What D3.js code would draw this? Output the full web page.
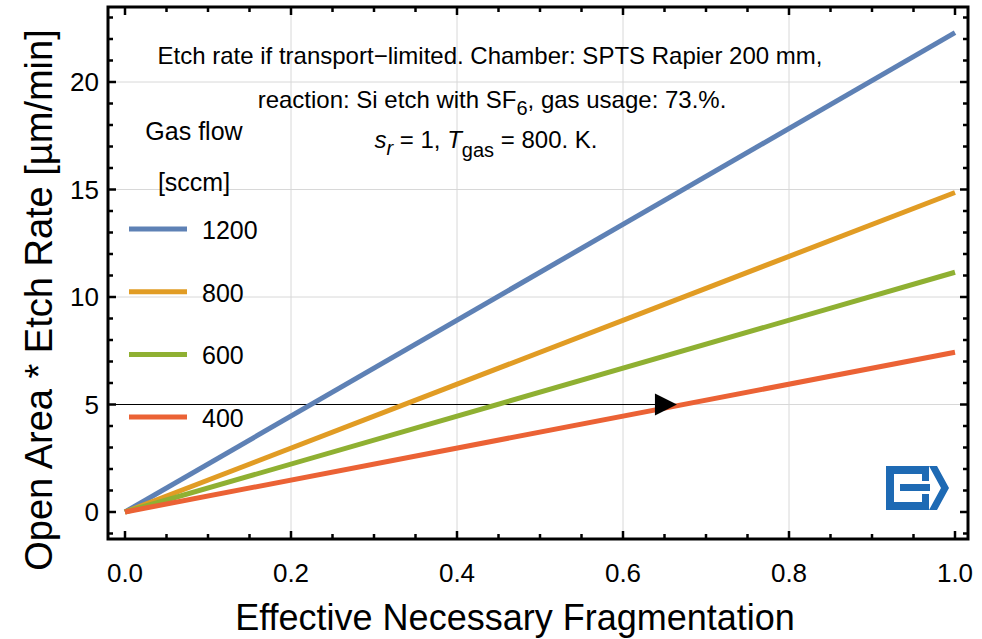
<!DOCTYPE html>
<html>
<head>
<meta charset="utf-8">
<script src="https://cdn.jsdelivr.net/npm/d3@7"></script>
<style>
  body { margin: 0; background: #fff; }
  svg { font-family: "Liberation Sans", Arial, sans-serif; }
</style>
</head>
<body>
<div id="chart"></div>
<script>
// gas flows (sccm) and etch rate at fragmentation = 1 (linear through origin)
const flows = [1200, 800, 600, 400];
const rateAtOne = [22.3, 14.86, 11.15, 7.43];
const colors = ["#5E81B5", "#E19C24", "#8FB032", "#EB6235"];
const xTicks = [0, 0.2, 0.4, 0.6, 0.8, 1.0];
const yTicks = [0, 5, 10, 15, 20];
// arrow: rate level 5 hits the 400 sccm line
const arrowY = 5;
const arrowEnd = 0.665;

const w = 982, h = 639;
const svg = d3.select("#chart").append("svg").attr("width", w).attr("height", h);

// frame is 108..968 x 7..539
const x = d3.scaleLinear().domain([0, 1]).range([125, 955]);
const y = d3.scaleLinear().domain([0, 20]).range([512, 82]);
const fL = 108, fR = 968, fT = 7, fB = 539;

// grid
svg.append("g").selectAll("line").data(xTicks.filter(d => d > 0 && d < 1)).enter().append("line")
   .attr("x1", d => x(d)).attr("x2", d => x(d)).attr("y1", fT).attr("y2", fB)
   .attr("stroke", "#d8d8d8").attr("stroke-width", 1);
svg.append("g").selectAll("line").data(yTicks.filter(d => d > 0)).enter().append("line")
   .attr("x1", fL).attr("x2", fR).attr("y1", d => y(d)).attr("y2", d => y(d))
   .attr("stroke", "#d8d8d8").attr("stroke-width", 1);

// arrow line
svg.append("line")
   .attr("x1", fL).attr("x2", x(arrowEnd) - 18)
   .attr("y1", y(arrowY)).attr("y2", y(arrowY))
   .attr("stroke", "#000").attr("stroke-width", 1.2);

// series
const line = d3.line().x(d => x(d[0])).y(d => y(d[1]));
flows.forEach((f, i) => {
  svg.append("path")
     .datum([[0, 0], [1, rateAtOne[i]]])
     .attr("d", line)
     .attr("fill", "none")
     .attr("stroke", colors[i])
     .attr("stroke-width", 5);
});

// arrow head
const ax = x(arrowEnd), ay = y(arrowY);
svg.append("path")
   .attr("d", `M${ax},${ay} L${ax - 22},${ay - 11} L${ax - 22},${ay + 11} Z`)
   .attr("fill", "#000");

// frame with inward ticks
const minorX = d3.range(0, 1.0001, 0.05);
const minorY = d3.range(-1, 24, 1);
const ticks = svg.append("g").attr("stroke", "#000").attr("stroke-width", 2.5);
minorX.forEach(v => {
  const major = Math.abs(v * 5 - Math.round(v * 5)) < 1e-6;
  const len = major ? 8 : 5;
  ticks.append("line").attr("x1", x(v)).attr("x2", x(v)).attr("y1", fB).attr("y2", fB - len);
  ticks.append("line").attr("x1", x(v)).attr("x2", x(v)).attr("y1", fT).attr("y2", fT + len);
});
minorY.forEach(v => {
  const len = v % 5 === 0 ? 8 : 5;
  ticks.append("line").attr("x1", fL).attr("x2", fL + len).attr("y1", y(v)).attr("y2", y(v));
  ticks.append("line").attr("x1", fR).attr("x2", fR - len).attr("y1", y(v)).attr("y2", y(v));
});
svg.append("rect")
   .attr("x", fL).attr("y", fT).attr("width", fR - fL).attr("height", fB - fT)
   .attr("fill", "none").attr("stroke", "#000").attr("stroke-width", 3);

// tick labels
svg.append("g").selectAll("text").data(xTicks).enter().append("text")
   .attr("x", d => x(d)).attr("y", 582)
   .attr("text-anchor", "middle").attr("font-size", 26)
   .text(d => d.toFixed(1));
svg.append("g").selectAll("text").data(yTicks).enter().append("text")
   .attr("x", 99).attr("y", d => y(d) + 9)
   .attr("text-anchor", "end").attr("font-size", 26)
   .text(d => d);

// axis titles
svg.append("text")
   .attr("x", 515).attr("y", 630)
   .attr("text-anchor", "middle").attr("font-size", 36)
   .text("Effective Necessary Fragmentation");
svg.append("text")
   .attr("transform", "translate(52,300) rotate(-90)")
   .attr("text-anchor", "middle").attr("font-size", 38)
   .text("Open Area * Etch Rate [µm/min]");

// annotation
const ann = svg.append("g").attr("font-size", 24).attr("text-anchor", "middle");
ann.append("text").attr("x", 490).attr("y", 64)
   .text("Etch rate if transport\u2212limited. Chamber: SPTS Rapier 200 mm,");
const l2 = ann.append("text").attr("x", 492).attr("y", 108);
l2.append("tspan").text("reaction: Si etch with SF");
l2.append("tspan").attr("dy", 7).attr("font-size", 20).text("6");
l2.append("tspan").attr("dy", -7).text(", gas usage: 73.%.");
const l3 = ann.append("text").attr("x", 486).attr("y", 148);
l3.append("tspan").attr("font-style", "italic").text("s");
l3.append("tspan").attr("dy", 7).attr("font-size", 20).attr("font-style", "italic").text("r");
l3.append("tspan").attr("dy", -7).text(" = 1, ");
l3.append("tspan").attr("font-style", "italic").text("T");
l3.append("tspan").attr("dy", 9).attr("font-size", 20).text("gas");
l3.append("tspan").attr("dy", -9).text(" = 800. K.");

// legend
const leg = svg.append("g");
leg.append("text").attr("x", 194).attr("y", 140).attr("text-anchor", "middle").attr("font-size", 25).text("Gas flow");
leg.append("text").attr("x", 194).attr("y", 191).attr("text-anchor", "middle").attr("font-size", 25).text("[sccm]");
flows.forEach((f, i) => {
  const ly = 229 + i * 62.7;
  leg.append("line").attr("x1", 129).attr("x2", 187).attr("y1", ly).attr("y2", ly)
     .attr("stroke", colors[i]).attr("stroke-width", 5);
  leg.append("text").attr("x", 202).attr("y", ly + 10).attr("font-size", 25).text(f);
});

// logo
const logo = svg.append("g").attr("fill", "#1E6AB4");
logo.append("path").attr("fill-rule", "evenodd")
    .attr("d", "M886,466 H929 V481 H922 V474 H894 V502 H922 V494 H929 V510 H886 Z");
logo.append("rect").attr("x", 900).attr("y", 484).attr("width", 30).attr("height", 7);
logo.append("path").attr("d", "M929,466 H937 L949,488 L937,510 H929 L941,488 Z");
</script>
</body>
</html>
